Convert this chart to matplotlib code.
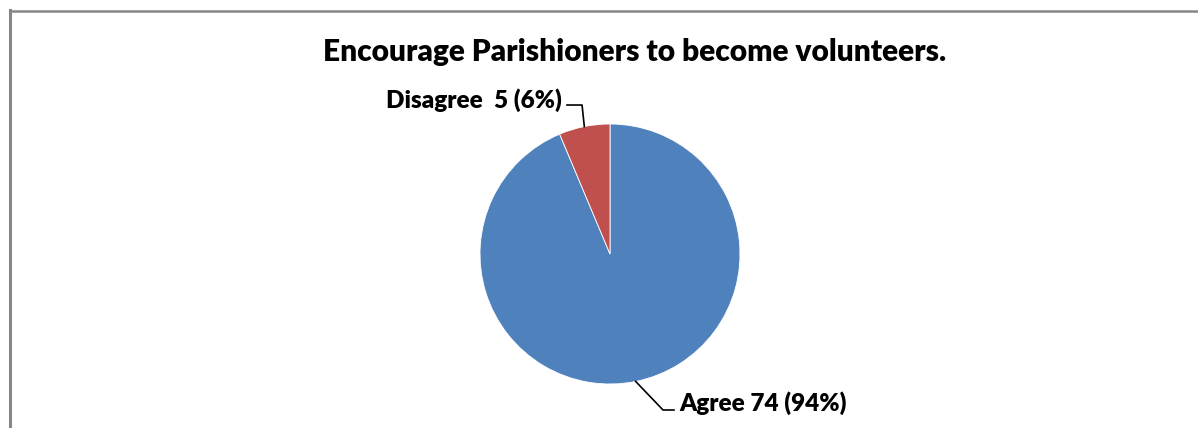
import numpy as np
import matplotlib.pyplot as plt
from matplotlib.lines import Line2D

labels = ["Agree", "Disagree"]
counts = [74, 5]
colors = ["#4F81BD", "#C0504D"]
title = "Encourage Parishioners to become volunteers."

plt.rcParams["font.family"] = ["Lato", "DejaVu Sans"]

W, H = 1198, 428
fig = plt.figure(figsize=(W / 100, H / 100), dpi=100)
fig.patch.set_facecolor("white")

# chart frame (left and top edges visible)
fig.add_artist(Line2D([10 / W, 10 / W], [0, 1 - 10 / H], color="#868686", lw=2.2))
fig.add_artist(Line2D([10 / W, 1], [1 - 10.5 / H, 1 - 10.5 / H], color="#868686", lw=1.8))

# pie axes: centre (610, 254) px, radius 130 px
cx, cy, r = 610, 254, 130
ax = fig.add_axes([(cx - r) / W, (H - cy - r) / H, 2 * r / W, 2 * r / H])
wedges, _ = ax.pie(counts, colors=colors, startangle=90, counterclock=False,
                   wedgeprops=dict(edgecolor="white", linewidth=0.6))
ax.set_xlim(-1, 1)
ax.set_ylim(-1, 1)
ax.set_aspect("equal")
ax.axis("off")

fig.text(635 / W, 1 - 52 / H, title, ha="center", va="center",
         fontsize=21.5, fontweight="heavy")

total = sum(counts)
# label layout: (elbow, line end, text anchor, ha) in radius units
layout = {
    "Agree": ((0.408, -1.2), (0.492, -1.2), (0.535, -1.15), "left"),
    "Disagree": ((-0.215, 1.146), (-0.331, 1.146), (-0.37, 1.185), "right"),
}
for w, lab, n in zip(wedges, labels, counts):
    mid = np.deg2rad((w.theta1 + w.theta2) / 2)
    x0, y0 = np.cos(mid), np.sin(mid)
    elbow, end, txt, ha = layout[lab]
    ax.plot([x0, elbow[0], end[0]], [y0, elbow[1], end[1]], color="black",
            lw=1.2, clip_on=False)
    sep = "  " if lab == "Disagree" else " "
    s = f"{lab}{sep}{n} ({round(100 * n / total)}%)"
    ax.text(txt[0], txt[1], s, ha=ha, va="center", fontsize=17.5,
            fontweight="heavy", clip_on=False)

fig.savefig("out.png", dpi=100)
